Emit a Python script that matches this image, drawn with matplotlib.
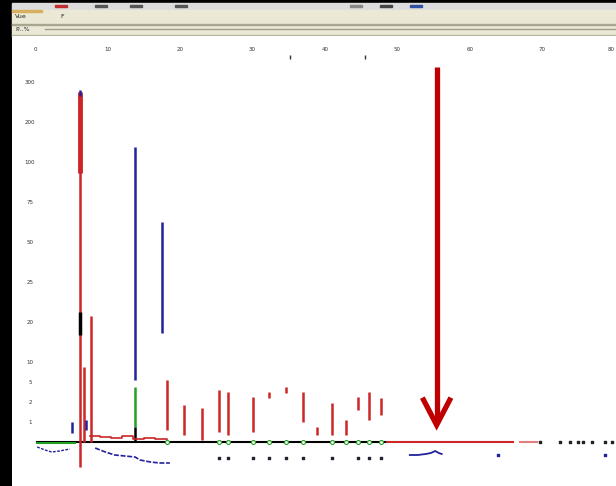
import numpy as np
import matplotlib
matplotlib.use("Agg")
import matplotlib.pyplot as plt
from matplotlib.patches import Rectangle

# ---- data ----
# red peaks: position, top, bottom
red_x = [6.2, 6.76, 7.72, 18.2, 20.55, 23.0, 25.4, 26.6, 30.1, 32.3, 34.6, 37.0, 38.9, 41.0, 42.9, 44.6, 46.1, 47.7]
red_top = [17.5, 3.75, 6.3, 3.1, 1.85, 1.7, 2.6, 2.5, 2.25, 2.5, 2.75, 2.5, 0.75, 1.95, 1.1, 2.25, 2.5, 2.2]
red_bot = [-1.25, 0.0, 0.0, 0.6, 0.35, 0.1, 0.5, 0.35, 0.5, 2.2, 2.45, 1.0, 0.35, 0.35, 0.35, 1.6, 1.1, 1.35]

# blue peaks
blue_x = [6.2, 13.8, 17.5, 5.1, 7.0]
blue_top = [17.6, 14.75, 11.0, 1.0, 1.1]
blue_bot = [17.3, 3.1, 5.45, 0.45, 0.6]

# green / black segments on the tall blue peak
green_x = [13.8]
green_top = [2.75]
green_bot = [0.75]

# blue traces under the baseline
blue_tr1_x = [0.3, 1.4, 2.3, 3.4, 4.8]
blue_tr1_y = [-0.25, -0.4, -0.5, -0.45, -0.35]
blue_tr2_x = [8.3, 9.7, 11.0, 12.4, 13.8, 14.5, 15.9, 17.2, 18.6]
blue_tr2_y = [-0.3, -0.5, -0.65, -0.7, -0.75, -0.9, -1.0, -1.05, -1.05]
blue_tr3_x = [51.7, 52.8, 53.9, 54.6, 55.2, 55.7, 56.1]
blue_tr3_y = [-0.65, -0.65, -0.6, -0.55, -0.45, -0.55, -0.6]
blue_dots_x = [63.9, 78.6]

# red noise just above the baseline
red_noise_x = [7.6, 9.0, 10.5, 12.0, 13.5, 15.0, 16.5, 18.2]
red_noise_y = [0.3, 0.25, 0.2, 0.3, 0.15, 0.2, 0.15, 0.1]

# markers
green_ring_x = [18.2, 25.4, 26.6, 30.1, 32.3, 34.6, 37.0, 41.0, 42.9, 44.6, 46.1, 47.7]
dark_dot_x = [25.4, 26.6, 30.1, 32.3, 34.6, 37.0, 41.0, 44.6, 46.1, 47.7]
black_tail_x = [69.7, 72.4, 73.8, 74.9, 75.6, 76.8, 78.6, 79.6]

# axis labels
x_ticks = [0, 10, 20, 30, 40, 50, 60, 70, 80]
x_labels = ["0", "10", "20", "30", "40", "50", "60", "70", "80"]
y_ticks = [18, 16, 14, 12, 10, 8, 6, 4, 3, 2, 1]
y_labels = ["300", "200", "100", "75", "50", "25", "20", "10", "5", "2", "1"]

# annotation arrow
arrow_x = 55.4
arrow_top = 18.75
arrow_tip = 0.85

RED = "#cc2626"
BLUE = "#22229a"
GREEN = "#22a022"

fig = plt.figure(figsize=(6.16, 4.86), dpi=100, facecolor="black")

# toolbar strip at top (pixel coordinates)
bar = fig.add_axes([0, 0, 1, 1])
bar.set_xlim(0, 616)
bar.set_ylim(486, 0)
bar.axis("off")
bar.add_patch(Rectangle((12, 3), 604, 7, color="#dcdcdc"))
bar.add_patch(Rectangle((12, 10), 604, 26, color="#ebe8d6"))
bar.add_patch(Rectangle((12, 10), 30, 2, color="#d8b060"))
bar.add_patch(Rectangle((12, 24), 604, 1.5, color="#a9a690"))
bar.add_patch(Rectangle((12, 35), 604, 1.5, color="#b8b5a0"))
bar.plot([45, 616], [29.5, 29.5], color="#a09d88", lw=1)
bar.text(15, 17, "Vue", fontsize=4.5, color="#222", va="center")
bar.text(60, 17, "F", fontsize=4.5, color="#222", va="center")
bar.text(15, 29.5, "P...%", fontsize=4.5, color="#222", va="center")
for xi, c in [(55, "#c03030"), (95, "#555"), (130, "#555"), (175, "#555"), (350, "#888"), (380, "#444"), (410, "#3050a0")]:
    bar.add_patch(Rectangle((xi, 5), 12, 2, color=c))

# main plot
ax = fig.add_axes([12 / 616, 0, 604 / 616, 450 / 486])
ax.set_facecolor("white")
ax.set_xlim(-3.17, 80.14)
ax.set_ylim(-2.2, 20.3)
ax.set_xticks([])
ax.set_yticks([])
for s in ax.spines.values():
    s.set_visible(False)

for xv, lab in zip(x_ticks, x_labels):
    ha = "right" if xv == x_ticks[-1] else "center"
    ax.text(xv, 19.6, lab, fontsize=4, color="#333", ha=ha, va="center")
ax.vlines([35.2, 45.5], 19.15, 19.35, color="#333", lw=1)
for yv, lab in zip(y_ticks, y_labels):
    ax.text(-0.7, yv, lab, fontsize=4, color="#333", ha="center", va="center")

# baseline
ax.plot([0.3, 48.6], [0, 0], color="black", lw=1.5)
ax.plot([0.3, 5.5], [-0.05, -0.05], color=GREEN, lw=1.5)
ax.plot([48.6, 65.9], [0, 0], color=RED, lw=1.5)
ax.plot([66.9, 69.2], [0, 0], color=RED, lw=1.5, alpha=0.6)
ax.scatter(black_tail_x, np.zeros(len(black_tail_x)), s=3, color="#222", marker="s")

# peaks
ax.vlines(red_x, red_bot, red_top, color=RED, lw=1.8)
ax.vlines(red_x[0], 13.45, red_top[0], color=RED, lw=3.5)
ax.vlines(red_x[0], 5.35, 6.5, color="black", lw=2.5)
ax.vlines(blue_x, blue_bot, blue_top, color=BLUE, lw=1.8)
ax.vlines(green_x, green_bot, green_top, color=GREEN, lw=1.8)
ax.vlines(green_x, 0, green_bot, color="black", lw=1.8)

ax.step(red_noise_x, red_noise_y, color=RED, lw=1.2, where="post")

ax.plot(blue_tr1_x, blue_tr1_y, color=BLUE, lw=1, ls=(0, (2, 1)))
ax.plot(blue_tr2_x, blue_tr2_y, color=BLUE, lw=1.2, ls=(0, (3, 1)))
ax.plot(blue_tr3_x, blue_tr3_y, color=BLUE, lw=1.3)
ax.scatter(blue_dots_x, [-0.65] * len(blue_dots_x), s=4, color=BLUE, marker="s")

ax.scatter(green_ring_x, np.zeros(len(green_ring_x)), s=8, facecolor="white", edgecolor=GREEN, lw=0.8, zorder=3)
ax.scatter(dark_dot_x, [-0.8] * len(dark_dot_x), s=3, color="#223", marker="s")

# red arrow
ax.plot([arrow_x, arrow_x], [arrow_top, arrow_tip + 0.3], color="#c00000", lw=3.8, solid_capstyle="butt")
ax.plot([arrow_x - 1.8, arrow_x, arrow_x + 1.8], [arrow_tip + 1.25, arrow_tip, arrow_tip + 1.25],
        color="#c00000", lw=3.8, solid_joinstyle="miter")

fig.savefig("out.png", dpi=100, facecolor=fig.get_facecolor())
